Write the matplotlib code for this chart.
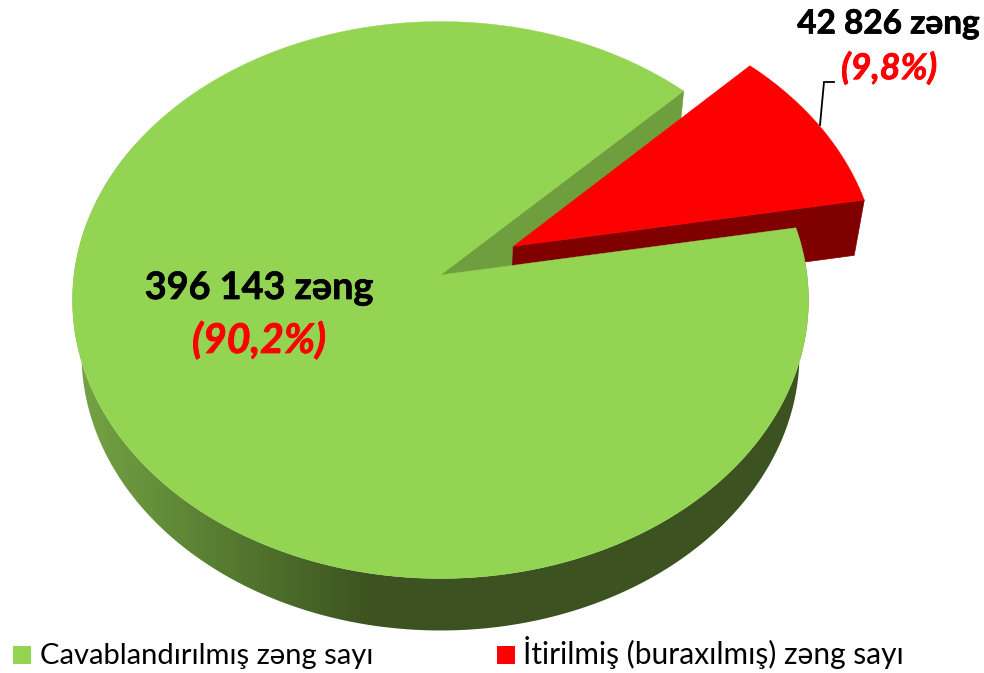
import numpy as np
import matplotlib
matplotlib.use("Agg")
import matplotlib.pyplot as plt
import matplotlib.patheffects as pe
from matplotlib.colors import LinearSegmentedColormap
from matplotlib.patches import Polygon

categories = ["Cavablandırılmış zəng sayı", "İtirilmiş (buraxılmış) zəng sayı"]
calls = [396143, 42826]
count_labels = ["396 143 zəng", "42 826 zəng"]
share_labels = ["(90,2%)", "(9,8%)"]
top_colors = ["#94d453", "#ff0000"]

FONT = ["Lato", "Open Sans", "DejaVu Sans"]
plt.rcParams["font.family"] = FONT

fig = plt.figure(figsize=(9.84, 6.73), dpi=100)
ax = fig.add_axes([0, 0, 1, 1])
ax.set_xlim(0, 984)
ax.set_ylim(673, 0)
ax.axis("off")

# Projection of the pie plane (unit disc; h = 0 top face, h = 1 bottom face)
CX, CY, BX, AY, K, M, D = 440.5, 275, 366.5, 276.2, 0.0899, 0.025, 56.2


def project(u, v, h=0.0):
    u, v = np.asarray(u, float), np.asarray(v, float)
    w = 1 + K * v + M * h
    return CX + BX * u / w, CY + (-AY * v + D * h) / w


def pts(u, v, h=0.0):
    return np.column_stack(project(u, v, h))


shares = np.array(calls, float) / sum(calls)
START = 10.0
red0, red1 = START, START + shares[1] * 360
green0, green1 = red1, START + 360
mid = np.radians((red0 + red1) / 2)
EXPLODE = 0.226
ex, ey = EXPLODE * np.cos(mid), EXPLODE * np.sin(mid)


def arc(a0, a1, n=240, dx=0.0, dy=0.0):
    t = np.radians(np.linspace(a0, a1, n))
    return np.cos(t) + dx, np.sin(t) + dy


def wall(angle, h_color, dx=0.0, dy=0.0, z=1):
    c, s = np.cos(np.radians(angle)) + dx, np.sin(np.radians(angle)) + dy
    poly = np.vstack([pts([dx, c], [dy, s], 0), pts([c, dx], [s, dy], 1)])
    ax.fill(poly[:, 0], poly[:, 1], color=h_color, lw=0.5, zorder=z)


# green cut wall visible in the notch
wall(green0, "#6f9e3e", z=1)

# red slice sides and top
wall(red0, "#800000", ex, ey, z=2)
u, v = arc(red0, red1, 80, ex, ey)
pr = np.vstack([pts([ex], [ey]), pts(u, v)])
ax.fill(pr[:, 0], pr[:, 1], color=top_colors[1], lw=0.3, zorder=3)

# green rim: horizontal gradient image clipped to the rim outline
shade = LinearSegmentedColormap.from_list(
    "rim", [(0.0, "#74a243"), (0.5, "#557a30"), (1.0, "#3c5220")]
)
u, v = arc(150, 370, 700)
rim_outline = np.vstack([pts(u, v, 0), pts(u, v, 1)[::-1]])
grad = np.linspace(0, 1, 512)[None, :]
im = ax.imshow(grad, cmap=shade, extent=(85, 375, 673, 0), aspect="auto", zorder=4,
               interpolation="bilinear")
im2 = ax.imshow(np.ones((2, 2)), cmap=shade, vmin=0, vmax=1, extent=(375, 984, 673, 0),
                aspect="auto", zorder=4)
im3 = ax.imshow(np.zeros((2, 2)), cmap=shade, vmin=0, vmax=1, extent=(0, 85, 673, 0),
                aspect="auto", zorder=4)
clip = Polygon(rim_outline, closed=True, transform=ax.transData, facecolor="none", edgecolor="none")
ax.add_patch(clip)
for image in (im, im2, im3):
    image.set_clip_path(clip)
ax.set_xlim(0, 984)
ax.set_ylim(673, 0)

# green top
u, v = arc(green0, green1, 720)
pg = np.vstack([pts([0], [0]), pts(u, v)])
ax.fill(pg[:, 0], pg[:, 1], color=top_colors[0], lw=0.3, zorder=5)

# leader
ax.plot([820, 824, 834], [125, 82, 82], color="black", lw=1.3, zorder=2, solid_joinstyle="miter")

# labels
heavy = [pe.withStroke(linewidth=0.5, foreground="black")]
heavy_r = [pe.withStroke(linewidth=0.6, foreground="#ff0000")]
ax.text(259, 288, count_labels[0], fontsize=27.2, fontweight="bold", ha="center", va="center",
        color="black", zorder=6, path_effects=heavy)
ax.text(259, 341, share_labels[0], fontsize=29.5, fontweight="bold", style="italic", ha="center",
        va="center", color="#ff0000", zorder=6, path_effects=heavy_r)
ax.text(888.5, 24, count_labels[1], fontsize=24, fontweight="bold", ha="center", va="center",
        color="black", zorder=6, path_effects=heavy)
ax.text(889, 68, share_labels[1], fontsize=25.7, fontweight="bold", style="italic", ha="center",
        va="center", color="#ff0000", zorder=6, path_effects=heavy_r)

# legend
for x0, xt, name, col, fs in zip((13, 497), (40, 523), categories, top_colors, (21.0, 21.5)):
    ax.fill([x0, x0 + 18, x0 + 18, x0], [646, 646, 664, 664], color=col, lw=0, zorder=6)
    ax.text(xt, 664, name, fontsize=fs, ha="left", va="baseline", color="black", zorder=6)

fig.savefig("out.png", dpi=100)
